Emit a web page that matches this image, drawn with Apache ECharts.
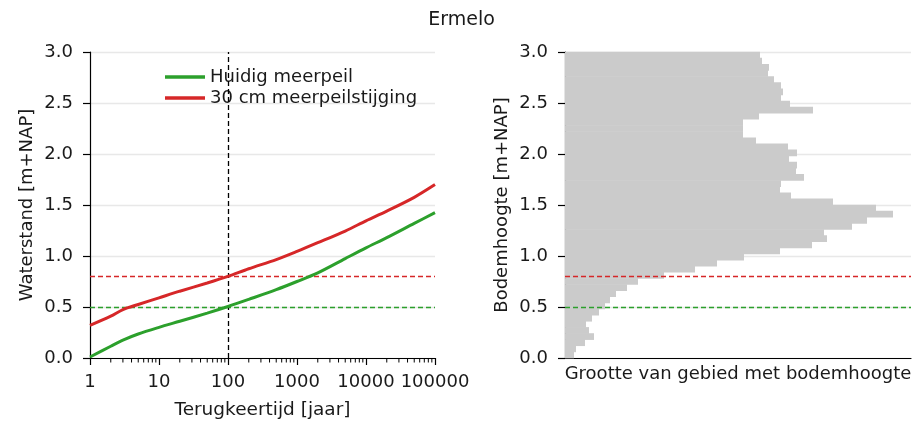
<!DOCTYPE html>
<html>
<head>
<meta charset="utf-8">
<title>Ermelo</title>
<script src="https://cdn.jsdelivr.net/npm/echarts@6/dist/echarts.min.js"></script>
<style>
  html, body { margin: 0; padding: 0; background: #fff; }
  #chart { width: 923px; height: 425px; }
</style>
</head>
<body>
<div id="chart"></div>
<script>
// terugkeertijd [jaar]
const returnPeriods = [1, 2, 3, 5, 10, 20, 50, 100, 200, 500, 1000, 2000, 5000, 10000, 20000, 50000, 100000];
// waterstand [m+NAP] bij huidig meerpeil
const levelCurrent = [0.01, 0.115, 0.175, 0.235, 0.30, 0.36, 0.44, 0.505, 0.575, 0.67, 0.75, 0.835, 0.975, 1.08, 1.18, 1.32, 1.425];
// waterstand [m+NAP] bij 30 cm meerpeilstijging
const levelRaised = [0.32, 0.41, 0.475, 0.525, 0.59, 0.655, 0.735, 0.80, 0.875, 0.965, 1.045, 1.13, 1.245, 1.345, 1.44, 1.575, 1.70];

// ontwerppunt (T = 100 jaar)
const designReturnPeriod = 100;
const designLevelCurrent = 0.5;
const designLevelRaised = 0.8;

// bodemhoogte: klassen van 0.06 m vanaf 0.0, oppervlak per klasse (relatief)
const binWidth = 0.06;
const bedArea = [
  9, 11, 20, 29, 24, 21, 27, 34, 40, 45,
  51, 62, 73, 99, 130, 152, 179, 215, 247, 262,
  259, 287, 302, 328, 311, 268, 226, 215, 216, 239,
  231, 232, 224, 232, 223, 191, 178, 178, 178, 194,
  248, 225, 216, 218, 216, 209, 203, 204, 197, 195
];

// minor ticks log-as (2..9 per decade)
const minorTicks = [];
for (let k = 0; k < 5; k++) {
  for (let m = 2; m <= 9; m++) minorTicks.push(m * Math.pow(10, k));
}

const GREEN = '#2ca02c';
const RED = '#d62728';
const FONT = 'DejaVu Sans';
const TXT = '#1a1a1a';

const chart = echarts.init(document.getElementById('chart'));

// losse serie die alleen een gestippelde referentielijn tekent
function refLine(grid, axis, value, color) {
  return {
    type: 'line',
    xAxisIndex: grid,
    yAxisIndex: grid,
    symbol: 'none',
    silent: true,
    data: [],
    z: 4,
    markLine: {
      silent: true,
      animation: false,
      symbol: ['none', 'none'],
      label: { show: false },
      emphasis: { disabled: true },
      lineStyle: { color: color, type: [5, 3], width: 1.3, opacity: 1 },
      data: [{ [axis]: value }]
    }
  };
}

const option = {
  animation: false,
  textStyle: { fontFamily: FONT, color: TXT },
  title: {
    text: 'Ermelo',
    left: 'center',
    top: 6,
    textStyle: { fontFamily: FONT, fontSize: 19, fontWeight: 'normal', color: TXT }
  },
  legend: {
    orient: 'vertical',
    left: 160,
    top: 63,
    icon: 'rect',
    itemWidth: 40,
    itemHeight: 3.5,
    itemGap: 3,
    textStyle: { fontFamily: FONT, fontSize: 18, lineHeight: 18, color: TXT },
    data: ['Huidig meerpeil', '30 cm meerpeilstijging']
  },
  grid: [
    { left: 90, top: 52, width: 345, height: 306 },
    { left: 565, top: 52, width: 346, height: 306 }
  ],
  xAxis: [
    {
      gridIndex: 0,
      type: 'log',
      logBase: 10,
      min: 1,
      max: 100000,
      name: 'Terugkeertijd [jaar]',
      nameLocation: 'middle',
      nameGap: 43,
      nameTextStyle: { fontSize: 18.5, color: TXT },
      axisLine: { lineStyle: { color: '#000', width: 1.2 } },
      axisTick: { length: 7, lineStyle: { color: '#000', width: 1.2 } },
      axisLabel: { fontSize: 18, color: TXT, margin: 15, formatter: v => String(Math.round(v)) },
      splitLine: { show: false }
    },
    {
      gridIndex: 1,
      type: 'value',
      min: 0,
      max: 346,
      name: 'Grootte van gebied met bodemhoogte',
      nameLocation: 'middle',
      nameGap: 7,
      nameTextStyle: { fontSize: 18, color: TXT, verticalAlign: 'top' },
      axisLine: { lineStyle: { color: '#000', width: 1.2 } },
      axisTick: { show: false },
      axisLabel: { show: false },
      splitLine: { show: false }
    }
  ],
  yAxis: [0, 1].map(i => ({
    gridIndex: i,
    type: 'value',
    min: 0,
    max: 3,
    interval: 0.5,
    name: i === 0 ? 'Waterstand [m+NAP]' : 'Bodemhoogte [m+NAP]',
    nameLocation: 'middle',
    nameGap: 54,
    nameTextStyle: { fontSize: 18, color: TXT },
    axisLine: { show: true, lineStyle: { color: '#000', width: 1.2 } },
    axisTick: { show: true, length: 7, lineStyle: { color: '#000', width: 1.2 } },
    axisLabel: { fontSize: 18, color: TXT, margin: 17, formatter: v => v.toFixed(1) },
    splitLine: { show: true, lineStyle: { color: '#e8e8e8', width: 1.3 } }
  })),
  series: [
    {
      name: 'Huidig meerpeil',
      type: 'line',
      xAxisIndex: 0,
      yAxisIndex: 0,
      smooth: 0.3,
      symbol: 'none',
      lineStyle: { color: GREEN, width: 3 },
      itemStyle: { color: GREEN },
      data: returnPeriods.map((t, i) => [t, levelCurrent[i]]),
      z: 5
    },
    {
      name: '30 cm meerpeilstijging',
      type: 'line',
      xAxisIndex: 0,
      yAxisIndex: 0,
      smooth: 0.3,
      symbol: 'none',
      lineStyle: { color: RED, width: 3 },
      itemStyle: { color: RED },
      data: returnPeriods.map((t, i) => [t, levelRaised[i]]),
      z: 5
    },
    refLine(0, 'yAxis', designLevelCurrent, GREEN),
    refLine(0, 'yAxis', designLevelRaised, RED),
    refLine(0, 'xAxis', designReturnPeriod, '#000'),
    {
      // minor ticks op de log-as
      type: 'custom',
      xAxisIndex: 0,
      yAxisIndex: 0,
      silent: true,
      clip: false,
      data: minorTicks.map(v => [v, 0]),
      renderItem: (params, api) => {
        const p = api.coord([api.value(0), 0]);
        return {
          type: 'line',
          shape: { x1: p[0], y1: p[1], x2: p[0], y2: p[1] + 4.5 },
          style: { stroke: '#000', lineWidth: 1 }
        };
      }
    },
    {
      // histogram bodemhoogte
      type: 'custom',
      xAxisIndex: 1,
      yAxisIndex: 1,
      silent: true,
      encode: { x: 0, y: 1 },
      data: bedArea.map((a, i) => [a, i * binWidth]),
      renderItem: (params, api) => {
        const y0 = api.value(1);
        const p0 = api.coord([0, y0]);
        const p1 = api.coord([api.value(0), y0 + binWidth]);
        return {
          type: 'rect',
          shape: { x: p0[0], y: p1[1] - 0.3, width: p1[0] - p0[0], height: p0[1] - p1[1] + 0.6 },
          style: { fill: '#cbcbcb' }
        };
      },
      z: 1
    },
    refLine(1, 'yAxis', designLevelRaised, RED),
    refLine(1, 'yAxis', designLevelCurrent, GREEN)
  ]
};

chart.setOption(option);
</script>
</body>
</html>
